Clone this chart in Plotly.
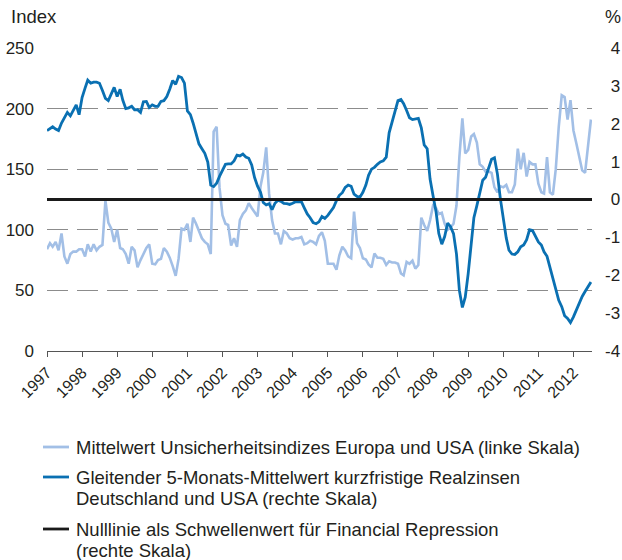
import pandas as pd
import plotly.graph_objects as go

# Monthly observations, January 1997 to July 2012
months = pd.date_range("1997-01-01", periods=187, freq="MS")

# Mean of the uncertainty indices for Europe and the USA (index, left scale)
uncertainty = [
    84, 89, 86, 90, 83, 97, 78, 72, 80, 82,
    82, 84, 84, 78, 88, 82, 88, 83, 86, 87.5,
    124, 106, 101, 90, 100, 85, 84, 80, 72, 86,
    83, 69, 75, 80, 85, 88, 72, 71.5, 75, 76,
    85, 82, 77, 70, 62, 76, 101, 100, 105, 90,
    110, 105, 99, 93, 90, 88, 80, 181, 185, 135,
    112, 105, 104, 87, 93, 86, 108, 113, 116, 122,
    118, 115, 111, 136, 147, 168, 130, 108, 97, 97,
    88, 99, 97, 93, 92, 93, 93, 94, 88, 89,
    91, 90, 88, 95, 98, 91, 72, 72, 72, 67,
    79, 86, 83, 78, 76.5, 115, 89, 85, 76.5, 75.5,
    71.5, 69, 80.5, 77, 77, 76, 71, 74, 73, 73,
    72, 64, 62.5, 73.5, 72, 74.5, 68, 71, 110, 104,
    99, 108, 120, 118, 113, 114, 105, 100, 102, 105,
    120, 160, 192, 163, 166, 177, 179, 172, 154, 152,
    148, 148, 147, 135, 131, 136, 135, 137, 131, 131,
    137.5, 167, 150, 163.5, 144, 156, 154, 154, 138, 131,
    130, 160, 131, 129, 150, 185, 211, 209.5, 191, 207,
    182, 171, 160, 149, 147, 170, 191,
]

# 5-month moving average of short-term real rates, Germany and USA (%, right scale)
real_rates = [
    1.82, 1.87, 1.92, 1.86, 1.82, 2.02, 2.18, 2.30, 2.21, 2.37,
    2.50, 2.24, 2.69, 2.94, 3.15, 3.07, 3.10, 3.10, 3.07, 2.88,
    2.67, 2.61, 2.78, 2.96, 2.72, 2.91, 2.62, 2.40, 2.42, 2.46,
    2.37, 2.37, 2.30, 2.58, 2.59, 2.43, 2.50, 2.46, 2.46, 2.59,
    2.61, 2.72, 2.91, 3.14, 3.04, 3.25, 3.22, 3.07, 2.34, 2.24,
    2.02, 1.76, 1.47, 1.34, 1.22, 0.99, 0.38, 0.34, 0.43, 0.61,
    0.77, 0.93, 0.94, 0.94, 1.02, 1.17, 1.15, 1.20, 1.12, 1.09,
    0.91, 0.58, 0.35, 0.19, -0.08, -0.14, -0.11, -0.27, -0.10, -0.02,
    -0.05, -0.10, -0.11, -0.13, -0.10, -0.06, -0.06, -0.06, -0.22, -0.38,
    -0.48, -0.61, -0.64, -0.59, -0.45, -0.50, -0.42, -0.32, -0.21, -0.03,
    0.11, 0.18, 0.32, 0.38, 0.35, 0.14, 0.08, 0.06, 0.19, 0.38,
    0.64, 0.80, 0.85, 0.93, 0.99, 1.02, 1.12, 1.76, 2.05, 2.34,
    2.61, 2.64, 2.53, 2.35, 2.16, 2.11, 2.13, 2.14, 1.89, 1.44,
    1.34, 0.54, 0.10, -0.32, -0.90, -1.18, -0.98, -0.62, -0.72, -0.90,
    -1.44, -2.40, -2.85, -2.58, -1.95, -1.12, -0.48, -0.16, 0.16, 0.51,
    0.59, 0.86, 1.06, 1.10, 0.67, 0.03, -0.48, -1.02, -1.34, -1.44,
    -1.45, -1.38, -1.25, -1.20, -1.06, -0.80, -0.82, -0.99, -1.12, -1.20,
    -1.38, -1.50, -1.79, -2.10, -2.42, -2.66, -2.83, -3.07, -3.14, -3.25,
    -3.10, -2.91, -2.74, -2.56, -2.43, -2.30, -2.18,
]

# Threshold for financial repression (zero line, right scale)
threshold_dates = ["1997-01-01", "2012-07-12"]
threshold = [0, 0]

left_ticks = [0, 50, 100, 150, 200, 250]
right_ticks = [-4, -3, -2, -1, 0, 1, 2, 3, 4]
# positive labels get a three-per-em space so they line up with the hyphen of negatives
right_labels = [("-%d" % -v) if v < 0 else ("\u2004%d" % v) for v in right_ticks]

# Key entries: one list of text lines per series
key_lines = [
    ["Mittelwert Unsicherheitsindizes Europa und USA (linke Skala)"],
    ["Gleitender 5-Monats-Mittelwert kurzfristige Realzinsen",
     "Deutschland und USA (rechte Skala)"],
    ["Nulllinie als Schwellenwert für Financial Repression",
     "(rechte Skala)"],
]

FONT = "Liberation Sans, Arial, sans-serif"
TEXT = "#231f20"
LIGHT = "#a2bfe6"
DARK = "#0a70b2"
BLACK = "#1a1a1a"
key_colors = [LIGHT, DARK, BLACK]

# plot area in pixels
W, H = 622, 560
L_M, R_M, T_M, B_M = 47, 30, 48, 209
PW, PH = W - L_M - R_M, H - T_M - B_M


def px_x(px):
    return (px - L_M) / PW


def px_y(py):
    return (H - B_M - py) / PH


fig = go.Figure()
fig.add_trace(go.Scatter(
    x=months, y=uncertainty, name=" ".join(key_lines[0]), mode="lines",
    line=dict(color=LIGHT, width=2.6), showlegend=False,
))
fig.add_trace(go.Scatter(
    x=months, y=real_rates, name=" ".join(key_lines[1]), mode="lines", yaxis="y2",
    line=dict(color=DARK, width=2.8), showlegend=False,
))
fig.add_trace(go.Scatter(
    x=threshold_dates, y=threshold, name=" ".join(key_lines[2]), mode="lines", yaxis="y2",
    line=dict(color=BLACK, width=2.8), showlegend=False,
))

# axis unit labels above the plot
annotations = [
    dict(text="Index", xref="paper", yref="paper", x=px_x(9), y=px_y(17),
         xanchor="left", yanchor="middle", showarrow=False,
         font=dict(family=FONT, size=18.5, color=TEXT)),
    dict(text="%", xref="paper", yref="paper", x=px_x(603), y=px_y(17),
         xanchor="left", yanchor="middle", showarrow=False,
         font=dict(family=FONT, size=18, color=TEXT)),
]

# key below the chart: sample line plus text lines
shapes = []
first_line_y = [447, 477, 529]
LINE_STEP = 21
for lines, color, y0 in zip(key_lines, key_colors, first_line_y):
    shapes.append(dict(
        type="line", xref="paper", yref="paper",
        x0=px_x(43), x1=px_x(69), y0=px_y(y0), y1=px_y(y0),
        line=dict(color=color, width=2.8),
    ))
    for k, txt in enumerate(lines):
        annotations.append(dict(
            text=txt, xref="paper", yref="paper",
            x=px_x(74), y=px_y(y0 + k * LINE_STEP),
            xanchor="left", yanchor="middle", showarrow=False,
            font=dict(family=FONT, size=18.5, color=TEXT),
        ))

fig.update_layout(
    width=W, height=H,
    margin=dict(l=L_M, r=R_M, t=T_M, b=B_M, autoexpand=False),
    paper_bgcolor="white", plot_bgcolor="white",
    font=dict(family=FONT, size=16, color=TEXT),
    showlegend=False,
    xaxis=dict(
        type="date",
        range=["1997-01-01", "2012-07-12"],
        tick0="1997-01-01", dtick="M12", tickformat="%Y",
        tickangle=-45,
        ticks="outside", ticklen=5, tickcolor="#555555", tickwidth=1,
        showline=True, linecolor="#555555", linewidth=1,
        showgrid=False, zeroline=False,
        tickfont=dict(family=FONT, size=16, color=TEXT),
    ),
    yaxis=dict(
        range=[0, 250], tickvals=left_ticks,
        showgrid=True, gridcolor="#8c8c8c", gridwidth=1.2, griddash="21px,9px",
        zeroline=False, showline=False, ticks="",
        ticklabelstandoff=12,
        tickfont=dict(family=FONT, size=17, color=TEXT),
    ),
    yaxis2=dict(
        range=[-4, 4], tickvals=right_ticks, ticktext=right_labels,
        overlaying="y", side="right",
        showgrid=False, zeroline=False, showline=False, ticks="",
        ticklabelstandoff=12,
        tickfont=dict(family=FONT, size=17, color=TEXT),
    ),
    annotations=annotations,
    shapes=shapes,
)

fig.write_html("out.html")
